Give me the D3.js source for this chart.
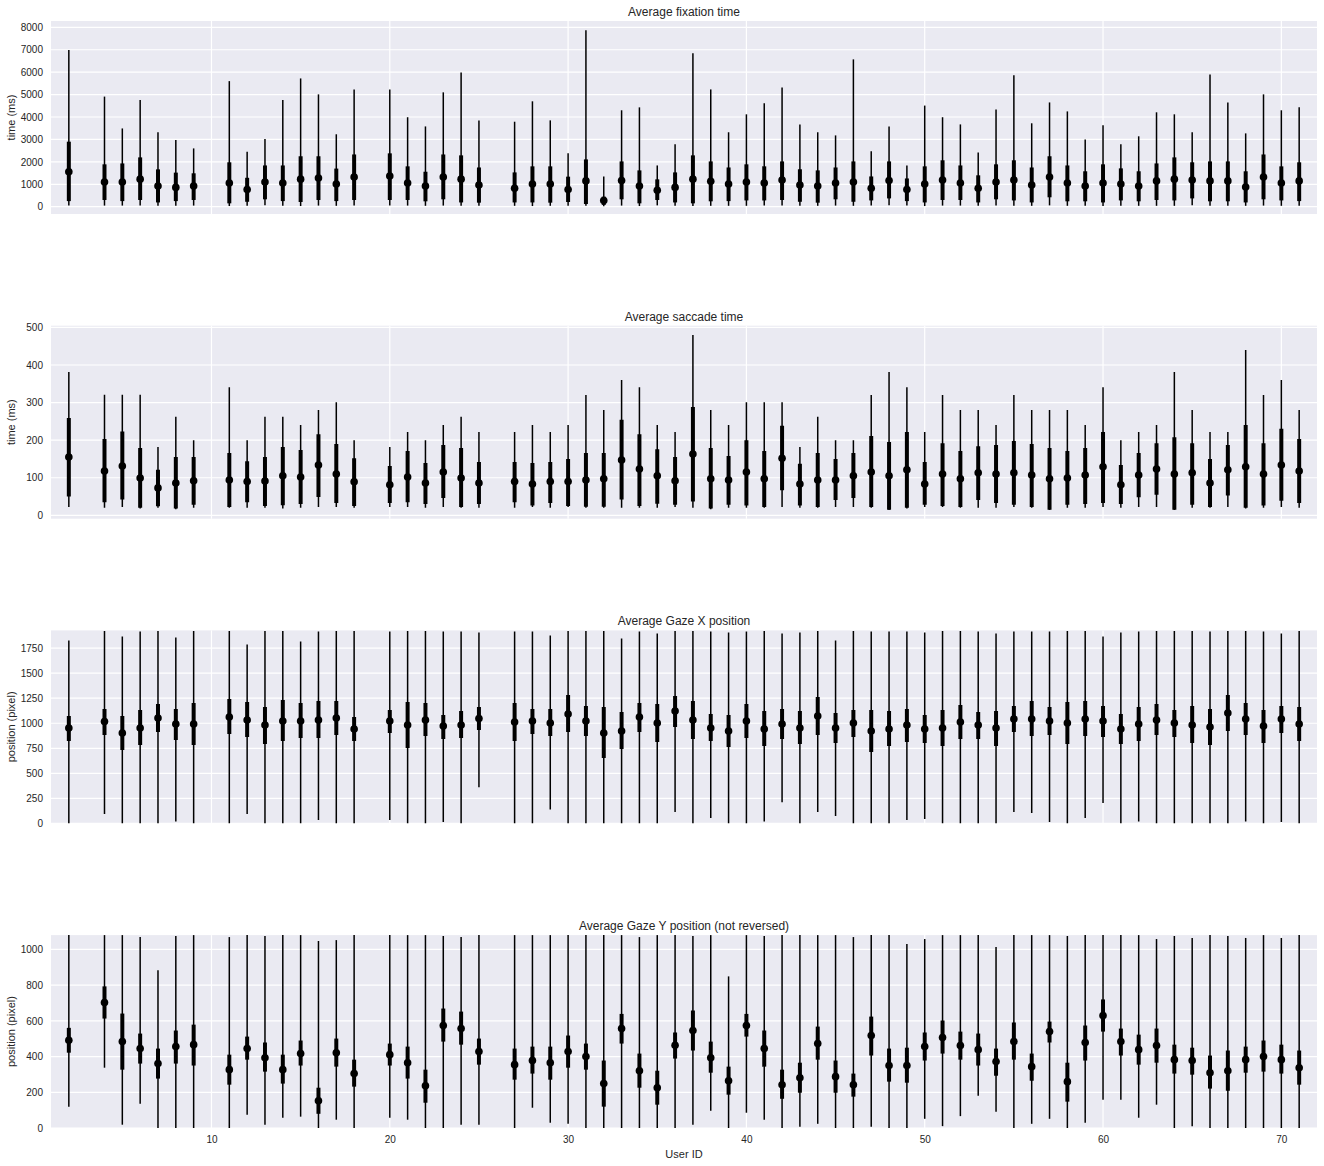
<!DOCTYPE html>
<html><head><meta charset="utf-8">
<script src="https://cdn.jsdelivr.net/npm/d3@7"></script>
<style>
body{margin:0;background:#fff;}
text{font-family:"Liberation Sans",Arial,sans-serif;}
</style>
</head><body>
<svg id="chart" width="1324" height="1166"></svg>
<script>
// ---------- DATA ----------
const users = [2,4,5,6,7,8,9,11,12,13,14,15,16,17,18,20,21,22,23,24,25,
  27,28,29,30,31,32,33,34,35,36,37,38,39,40,41,42,43,44,45,46,47,48,49,50,
  51,52,53,54,55,56,57,58,59,60,61,62,63,64,65,66,67,68,69,70,71];

// each row: [whisker low, box low, centre point, box high, whisker high]
const fixation = [
 [50,250,1560,2900,6990],[50,300,1100,1890,4910],[50,250,1100,1930,3490],[50,300,1230,2200,4760],
 [40,190,920,1665,3320],[40,250,860,1520,2970],[50,300,920,1490,2600],[30,150,1060,1980,5600],
 [40,220,770,1290,2450],[60,330,1100,1840,3020],[40,250,1060,1840,4760],[30,210,1230,2250,5720],
 [50,300,1280,2250,5010],[40,250,1010,1700,3230],[50,300,1320,2330,5230],[50,300,1370,2380,5230],
 [50,300,1060,1800,3990],[40,240,920,1560,3580],[50,330,1320,2330,5100],[40,190,1230,2290,5990],
 [40,180,970,1750,3840],
 [40,190,820,1530,3790],[30,190,1010,1800,4700],[40,180,1010,1800,3850],[40,210,770,1340,2380],
 [40,120,1150,2110,7870],[20,80,280,450,1350],[50,330,1170,2020,4300],[30,150,920,1620,4430],
 [60,300,730,1220,1840],[40,190,860,1530,2780],[30,150,1230,2290,6840],[40,240,1130,2020,5230],
 [40,250,1010,1750,3320],[40,280,1100,1890,4120],[50,280,1060,1800,4610],[50,300,1190,2020,5320],
 [40,220,970,1670,3670],[40,180,920,1620,3320],[50,330,1060,1750,3180],[40,220,1100,2020,6570],
 [50,280,820,1350,2470],[60,370,1170,2020,3580],[50,250,770,1260,1840],[30,190,1010,1800,4510],
 [50,300,1190,2070,3990],[50,300,1060,1840,3670],[40,190,820,1400,2420],[50,330,1100,1890,4340],
 [40,280,1190,2070,5860],[40,190,970,1750,3720],[60,420,1320,2250,4650],[40,240,1060,1840,4250],
 [40,240,920,1580,3000],[30,190,1060,1890,3630],[40,280,1010,1710,2780],[40,240,920,1580,3140],
 [40,300,1150,1930,4210],[40,280,1230,2200,4120],[60,370,1190,1980,3320],[40,240,1150,2020,5900],
 [40,240,1150,2020,4650],[40,190,880,1580,3270],[50,330,1320,2330,5010],[40,280,1060,1800,4300],
 [40,250,1150,1980,4430]
];

const saccade = [
 [22,50,155,259,381],[20,35,118,203,321],[22,42,131,223,321],[18,20,99,179,321],
 [20,24,73,121,182],[16,18,86,155,262],[20,28,92,155,200],[20,22,94,166,341],
 [20,35,90,144,200],[20,25,91,155,262],[18,27,105,182,262],[20,30,102,174,240],
 [22,49,134,216,280],[22,33,110,190,301],[20,25,89,152,200],[22,33,81,131,182],
 [22,35,102,171,222],[20,30,86,139,200],[22,46,115,187,240],[20,22,99,179,262],
 [20,30,86,142,222],
 [20,35,90,142,222],[22,26,83,139,240],[20,33,90,142,222],[22,25,90,150,240],
 [20,23,94,166,320],[20,23,97,166,280],[20,42,147,254,360],[20,25,123,216,341],
 [20,31,105,176,240],[22,28,92,155,222],[20,37,163,288,480],[16,18,97,179,280],
 [20,28,94,158,240],[20,26,115,200,301],[20,22,97,171,301],[22,67,152,238,301],
 [20,26,83,137,182],[20,22,94,166,262],[22,41,94,150,200],[22,46,105,166,200],
 [20,22,115,211,320],[14,15,105,195,381],[18,20,121,222,341],[22,28,83,142,222],
 [22,25,110,192,320],[20,22,97,171,280],[20,41,113,184,280],[20,33,110,187,240],
 [22,28,113,198,320],[20,22,107,190,280],[14,15,97,179,280],[20,28,99,171,280],
 [20,30,107,179,240],[22,33,129,222,341],[20,30,81,134,200],[22,48,107,166,222],
 [22,55,123,192,240],[14,15,110,208,381],[20,28,113,192,280],[20,22,86,150,222],
 [22,53,121,187,222],[18,20,129,240,440],[20,26,110,192,320],[22,39,134,230,360],
 [20,33,118,203,280]
];

const gazeX = [
 [0,823,953,1073,1827],[93,883,1017,1143,1920],[0,733,903,1073,1867],[0,783,953,1133,1917],
 [0,913,1053,1193,1920],[20,833,993,1143,1857],[0,783,993,1203,1920],[0,893,1063,1243,1920],
 [93,863,1033,1213,1787],[0,793,983,1163,1920],[0,823,1023,1233,1920],[0,853,1023,1203,1817],
 [33,853,1033,1223,1917],[0,883,1053,1223,1920],[0,823,943,1063,1920],[33,903,1023,1133,1917],
 [0,753,983,1213,1920],[0,873,1033,1203,1920],[13,843,973,1083,1917],[0,853,983,1123,1917],
 [360,933,1047,1163,1907],
 [0,823,1013,1203,1917],[0,893,1023,1143,1917],[140,873,1003,1143,1877],[0,913,1093,1283,1920],
 [0,873,1023,1173,1920],[0,653,903,1163,1920],[0,743,923,1113,1847],[0,913,1063,1203,1917],
 [0,813,1003,1193,1897],[113,963,1123,1273,1920],[0,843,1033,1223,1920],[53,823,953,1093,1917],
 [0,763,923,1083,1907],[0,853,1023,1193,1917],[20,773,943,1123,1920],[210,843,993,1143,1897],
 [0,793,953,1123,1907],[113,883,1073,1263,1920],[73,803,953,1103,1827],[0,863,1003,1133,1920],
 [0,713,923,1133,1917],[0,773,943,1123,1917],[33,813,983,1143,1917],[43,803,943,1083,1907],
 [0,773,953,1133,1920],[0,843,1013,1183,1920],[0,843,983,1113,1917],[0,773,953,1123,1897],
 [113,913,1043,1173,1917],[103,873,1043,1223,1917],[13,883,1023,1163,1917],[0,793,1003,1213,1920],
 [53,873,1043,1223,1920],[203,863,1023,1173,1867],[0,793,943,1093,1907],[20,823,993,1163,1917],
 [0,883,1033,1193,1920],[0,863,1003,1133,1920],[0,803,983,1173,1920],[0,783,963,1143,1917],
 [0,923,1103,1283,1920],[20,883,1043,1203,1920],[0,803,973,1133,1917],[13,903,1043,1173,1897],
 [0,823,993,1163,1920]
];

const gazeY = [
 [120,422,492,561,1080],[338,613,703,793,1080],[19,327,484,641,1080],[136,361,445,529,1069],
 [0,277,361,445,884],[0,361,456,546,1075],[0,350,467,579,1080],[0,243,327,411,1069],
 [75,383,445,512,1080],[19,316,394,479,1075],[58,249,327,411,1080],[64,350,417,490,1080],
 [0,80,153,226,1047],[47,344,422,501,1052],[0,232,305,383,1080],[58,350,411,473,1080],
 [47,277,366,456,1080],[0,142,237,327,1080],[0,484,574,669,1075],[19,467,557,652,1069],
 [19,355,428,501,1080],
 [0,271,355,445,1080],[114,305,378,456,1080],[30,271,366,456,1080],[24,338,428,518,1080],
 [0,327,400,473,1080],[0,120,249,378,1080],[0,473,557,639,1080],[0,226,321,417,1069],
 [0,131,226,321,1080],[0,389,464,535,1080],[19,434,546,658,1075],[97,310,394,484,1080],
 [0,187,265,344,849],[86,512,574,639,1080],[47,344,445,546,1075],[0,164,243,327,1080],
 [7,198,282,366,1080],[24,383,473,568,1080],[0,198,288,378,1080],[0,176,243,305,1069],
 [7,406,518,624,1080],[0,260,350,445,1080],[0,254,350,450,1030],[52,378,456,535,1058],
 [11,417,507,602,1080],[67,383,462,540,1080],[181,350,439,529,1080],[92,293,372,445,1013],
 [0,383,484,591,1080],[24,265,344,417,1080],[52,479,540,596,1080],[0,148,260,366,1075],
 [30,378,479,574,1080],[159,540,630,720,1080],[159,406,484,557,1080],[58,355,439,523,1080],
 [131,366,462,557,1058],[0,305,383,467,1075],[11,299,378,450,1064],[0,221,310,406,1080],
 [0,209,321,434,1075],[0,310,383,456,1064],[0,316,400,490,1080],[0,305,383,467,1064],
 [0,243,338,434,1080]
];

const titles = ["Average fixation time","Average saccade time","Average Gaze X position","Average Gaze Y position (not reversed)"];
const yLabels = ["time (ms)","time (ms)","position (pixel)","position (pixel)"];
const yTicks = [
 [0,1000,2000,3000,4000,5000,6000,7000,8000],
 [0,100,200,300,400,500],
 [0,250,500,750,1000,1250,1500,1750],
 [0,200,400,600,800,1000]
];
const yDomains = [[-325,8281],[-9,504.5],[0,1927],[0,1080]];
const xTicks = [10,20,30,40,50,60,70];
const xDomain = [1,72];
const xLabel = "User ID";

// ---------- DRAW ----------
const svg = d3.select("#chart");
const left = 51, right = 1317, top0 = 21, step = 304.7, ph = 193;
const x = d3.scaleLinear().domain(xDomain).range([left, right]);
const datasets = [fixation, saccade, gazeX, gazeY];
const textCol = "#262626";

datasets.forEach((data, i) => {
  const top = top0 + i*step, bottom = top + ph;
  const y = d3.scaleLinear().domain(yDomains[i]).range([bottom, top]);
  const g = svg.append("g");
  g.append("rect").attr("x", left).attr("y", top).attr("width", right-left).attr("height", ph).attr("fill", "#EAEAF2");
  g.selectAll(".hg").data(yTicks[i]).join("line")
    .attr("x1", left).attr("x2", right).attr("y1", d=>y(d)).attr("y2", d=>y(d))
    .attr("stroke", "#fff").attr("stroke-width", 1.2);
  g.selectAll(".vg").data(xTicks).join("line")
    .attr("y1", top).attr("y2", bottom).attr("x1", d=>x(d)).attr("x2", d=>x(d))
    .attr("stroke", "#fff").attr("stroke-width", 1.2);
  const cid = "clip"+i;
  svg.append("clipPath").attr("id", cid).append("rect").attr("x", left).attr("y", top).attr("width", right-left).attr("height", ph);
  const m = g.append("g").attr("clip-path", `url(#${cid})`);
  const rows = data.map((d, k) => ({u: users[k], v: d}));
  m.selectAll(".thin").data(rows).join("line")
    .attr("x1", d=>x(d.u)).attr("x2", d=>x(d.u)).attr("y1", d=>y(d.v[0])).attr("y2", d=>y(d.v[4]))
    .attr("stroke", "#000").attr("stroke-width", 1.5);
  m.selectAll(".thick").data(rows).join("line")
    .attr("x1", d=>x(d.u)).attr("x2", d=>x(d.u)).attr("y1", d=>y(d.v[1])).attr("y2", d=>y(d.v[3]))
    .attr("stroke", "#000").attr("stroke-width", 4);
  m.selectAll("circle").data(rows).join("circle")
    .attr("cx", d=>x(d.u)).attr("cy", d=>y(d.v[2])).attr("r", 3.8).attr("fill", "#000");
  const ya = g.append("g").attr("transform", `translate(${left},0)`)
    .call(d3.axisLeft(y).tickValues(yTicks[i]).tickSize(0).tickPadding(8).tickFormat(d3.format("d")));
  ya.select(".domain").remove();
  ya.selectAll("text").attr("fill", textCol).style("font-size", "10px").style("font-family", '"Liberation Sans",Arial,sans-serif');
  g.append("text").attr("x", (left+right)/2).attr("y", top-5).attr("text-anchor", "middle")
    .attr("fill", textCol).style("font-size", "12px").text(titles[i]);
  g.append("text").attr("transform", `translate(15,${top+ph/2}) rotate(-90)`).attr("text-anchor", "middle")
    .attr("fill", textCol).style("font-size", "11px").text(yLabels[i]);
  if (i === 3) {
    const xa = g.append("g").attr("transform", `translate(0,${bottom})`)
      .call(d3.axisBottom(x).tickValues(xTicks).tickSize(0).tickPadding(8));
    xa.select(".domain").remove();
    xa.selectAll("text").attr("fill", textCol).style("font-size", "10px").style("font-family", '"Liberation Sans",Arial,sans-serif');
    g.append("text").attr("x", (left+right)/2).attr("y", 1158).attr("text-anchor", "middle")
      .attr("fill", textCol).style("font-size", "11px").text(xLabel);
  }
});
</script>
</body></html>
